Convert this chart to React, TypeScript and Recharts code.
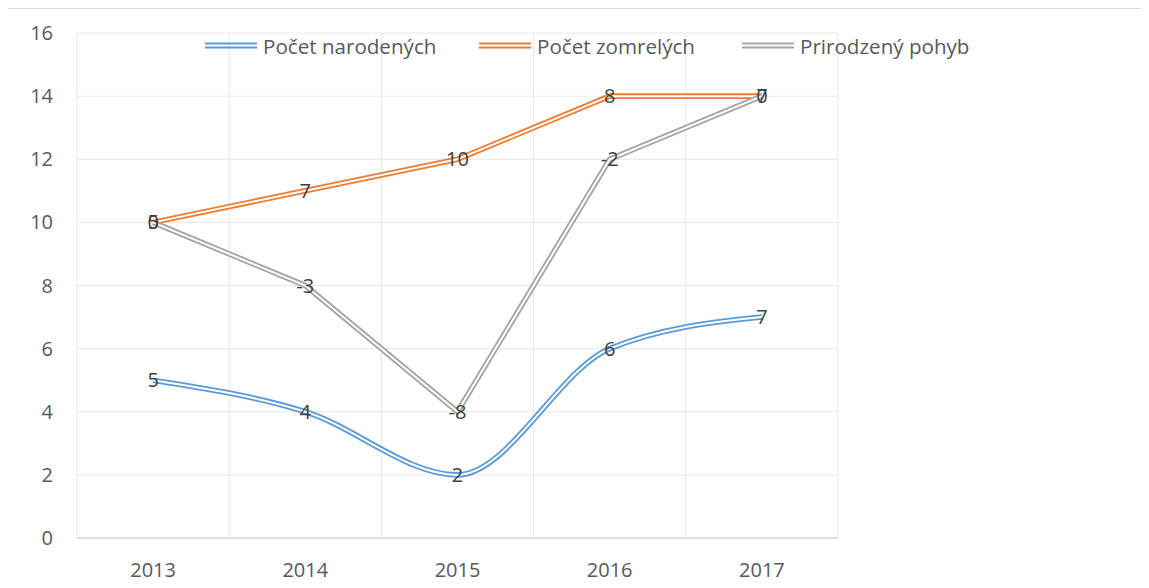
import React from "react";
import { LineChart, Line, XAxis, YAxis, CartesianGrid, LabelList } from "recharts";

const years = ["2013", "2014", "2015", "2016", "2017"];
const narodenych = [5, 4, 2, 6, 7];
const zomrelych = [5, 7, 10, 8, 7];
const pohyb = [0, -3, -8, -2, 0];
const yTicks = [0, 2, 4, 6, 8, 10, 12, 14, 16];

const SERIES = [
  { key: "nar", label: "nNar", name: "Počet narodených", color: "#5b9bd5", curve: "monotone" },
  { key: "zom", label: "nZom", name: "Počet zomrelých", color: "#ed7d31", curve: "linear" },
  { key: "poh", label: "nPoh", name: "Prirodzený pohyb", color: "#a5a5a5", curve: "linear" },
];

// stacked line chart: every series sits on top of the previous one
const data = years.map((year, i) => ({
  year,
  nar: narodenych[i],
  zom: narodenych[i] + zomrelych[i],
  poh: narodenych[i] + zomrelych[i] + pohyb[i],
  nNar: narodenych[i],
  nZom: zomrelych[i],
  nPoh: pohyb[i],
}));

const FONT = "'Open Sans', 'Liberation Sans', sans-serif";
const LEGEND_X = [197, 471, 734];

function DoubleIcon({ color }: { color: string }) {
  return (
    <svg width={52} height={8} style={{ display: "block" }}>
      <line x1={0} x2={52} y1={1.5} y2={1.5} stroke={color} strokeWidth={1.8} />
      <line x1={0} x2={52} y1={5.5} y2={5.5} stroke={color} strokeWidth={1.8} />
    </svg>
  );
}

function ChartLegend() {
  return (
    <div style={{ position: "absolute", left: 0, top: 24, height: 28, width: 1141, fontFamily: FONT }}>
      {SERIES.map((s, i) => (
        <div
          key={s.key}
          style={{ position: "absolute", left: LEGEND_X[i], top: 0, display: "flex", alignItems: "center", height: 28 }}
        >
          <DoubleIcon color={s.color} />
          <span style={{ marginLeft: 6, fontSize: 20.6, color: "#595959", whiteSpace: "nowrap" }}>{s.name}</span>
        </div>
      ))}
    </div>
  );
}

export default function App() {
  return (
    <div style={{ position: "relative", width: 1141, height: 580 }}>
      <div
        style={{
          position: "absolute",
          left: -2,
          top: -1,
          width: 1143,
          height: 581,
          borderLeft: "2px solid #d9d9d9",
          borderTop: "2px solid #d9d9d9",
          boxSizing: "border-box",
        }}
      />
      <LineChart width={1141} height={580} data={data} margin={{ top: 25, right: 311, left: 0, bottom: 0 }}>
        <CartesianGrid
          stroke="#e8e8e8"
          strokeWidth={1}
          verticalCoordinatesGenerator={({ offset }: any) =>
            [0, 1, 2, 3, 4, 5].map((i) => offset.left + (i * offset.width) / years.length)
          }
        />
        <XAxis
          dataKey="year"
          scale="band"
          axisLine={{ stroke: "#d9d9d9", strokeWidth: 1.5 }}
          tickLine={false}
          height={50}
          tickMargin={19}
          tick={{ fill: "#595959", fontSize: 20, fontFamily: FONT }}
        />
        <YAxis
          domain={[0, 16]}
          ticks={yTicks}
          width={69}
          axisLine={false}
          tickLine={false}
          tickMargin={18}
          tick={{ fill: "#595959", fontSize: 20, fontFamily: FONT }}
        />
        {SERIES.map((s) => [
          <Line
            key={s.key + "-outer"}
            dataKey={s.key}
            type={s.curve as any}
            stroke={s.color}
            strokeWidth={5.6}
            dot={false}
            activeDot={false}
            isAnimationActive={false}
            legendType="none"
          />,
          <Line
            key={s.key + "-inner"}
            dataKey={s.key}
            type={s.curve as any}
            stroke="#ffffff"
            strokeWidth={2}
            dot={false}
            activeDot={false}
            isAnimationActive={false}
            legendType="none"
          >
            <LabelList dataKey={s.label} position="center" fill="#404040" fontSize={20} fontFamily={FONT} />
          </Line>,
        ])}
      </LineChart>
      <ChartLegend />
    </div>
  );
}
